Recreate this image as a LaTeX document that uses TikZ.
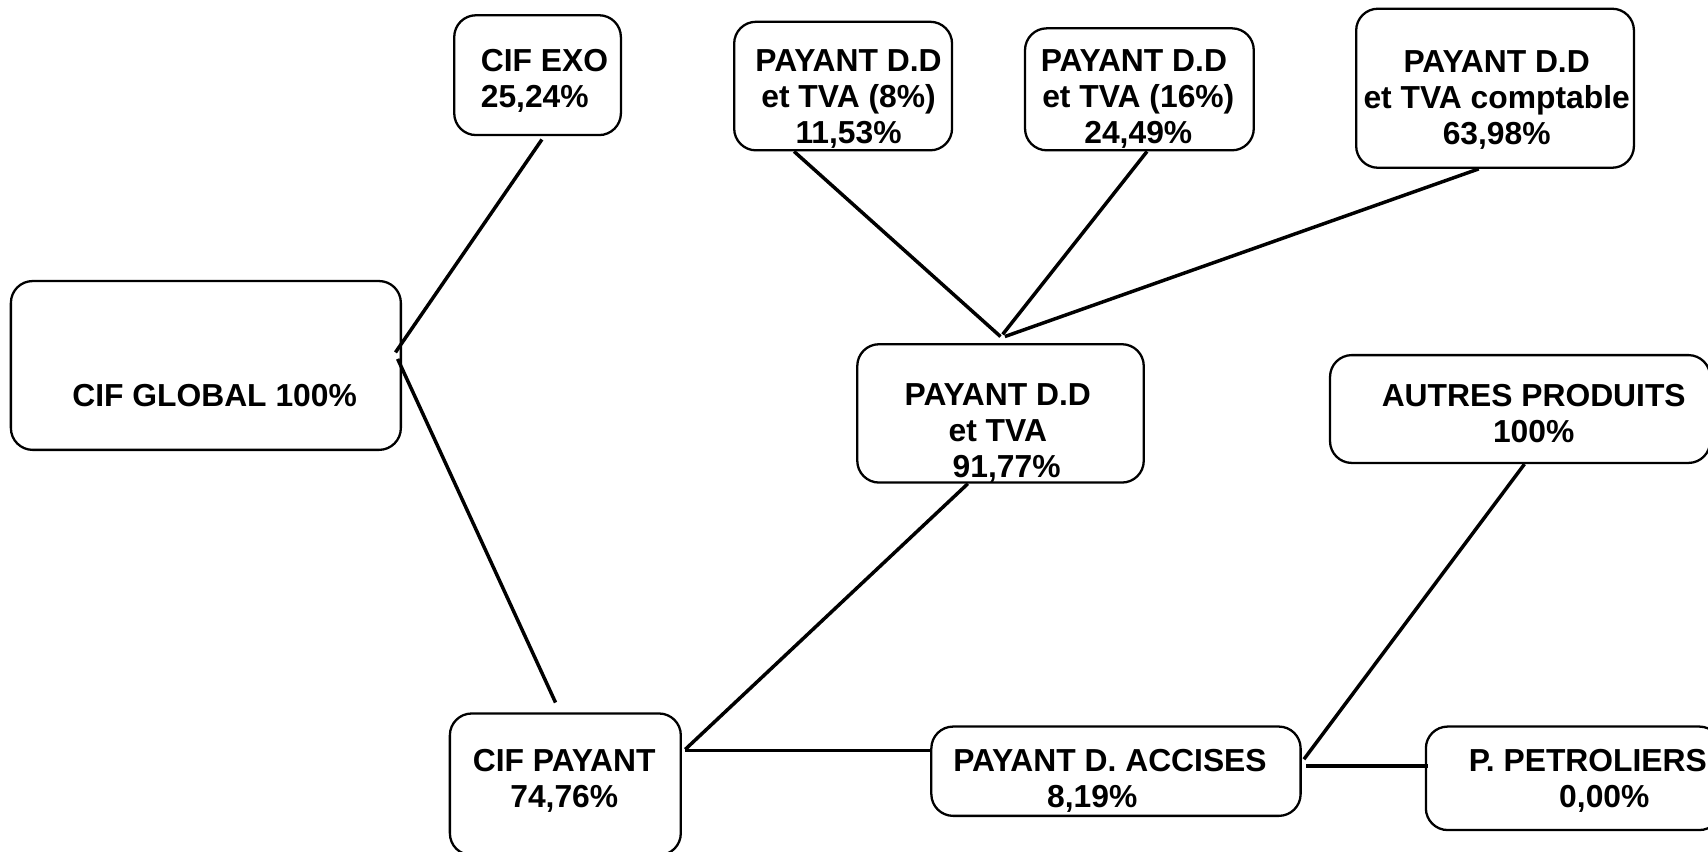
\documentclass[tikz,border=0pt]{standalone}
\usepackage{fontspec}
\setmainfont{Liberation Sans}
\usetikzlibrary{calc}

\begin{document}
\begin{tikzpicture}[x=0.5pt,y=-0.5pt,
  box/.style={draw,line width=1.05pt,rounded corners=10pt,inner sep=0pt},
  txt/.style={inner sep=0pt,align=center,font=\fontsize{14.6pt}{16.5pt}\selectfont\bfseries},
  link/.style={line width=1.6pt}]

\useasboundingbox (0,0) rectangle (1568,782);

% boxes
\node[box,minimum width=179pt,minimum height=77.5pt] (global) at (189,335.5) {};
\node[box,minimum width=76.5pt,minimum height=55pt] (exo) at (493.5,69) {};
\node[box,minimum width=100pt,minimum height=59pt] (tva8) at (774,79) {};
\node[box,minimum width=105pt,minimum height=56pt] (tva16) at (1046,82) {};
\node[box,minimum width=127.5pt,minimum height=73pt] (tvac) at (1372.5,81) {};
\node[box,minimum width=131.5pt,minimum height=63.5pt] (tva) at (918.5,379.5) {};
\node[box,minimum width=174.5pt,minimum height=49.5pt] (autres) at (1395.5,375.5) {};
\node[box,minimum width=106pt,minimum height=65pt] (payant) at (519,720) {};
\node[box,minimum width=169.5pt,minimum height=41pt] (accises) at (1024.5,708) {};
\node[box,minimum width=135.5pt,minimum height=47.5pt] (petro) at (1444.5,714.5) {};

% texts
\node[txt] (global-t) at (197,363) {CIF GLOBAL 100\%};
\node[txt,align=left,anchor=west] (exo-t) at (441,74) {CIF EXO\\25,24\%};
\node[txt] (tva8-t) at (779,91) {PAYANT D.D\\et TVA (8\%)\\11,53\%};
\node[txt] (tva16-t) at (1045,91) {PAYANT D.D\hphantom{.}\\et TVA (16\%)\\24,49\%};
\node[txt] (tvac-t) at (1374,92) {PAYANT D.D\\et TVA comptable\\63,98\%};
\node[txt] (tva-t) at (916,397.5) {PAYANT D.D\\et TVA\\\hphantom{0}91,77\%};
\node[txt] (autres-t) at (1408,379.5) {AUTRES PRODUITS\\100\%};
\node[txt] (payant-t) at (518,716.5) {CIF PAYANT\\74,76\%};
\node[txt] (accises-t) at (1019,716.5) {PAYANT D. ACCISES\\8,19\%\hphantom{00}};
\node[txt,align=left,anchor=west] (petro-t) at (1348,716.5) {P. PETROLIERS\\\hspace*{41.5pt}0,00\%};

% links
\coordinate (gl-a) at ($(global.east)+(-6,-12)$);
\coordinate (gl-b) at ($(global.east)+(-4,-6)$);
\coordinate (hub) at ($(tva.north)+(0,-6)$);

\draw[link] (gl-a) -- ($(exo.south)+(4,3)$);
\draw[link] (gl-b) -- ($(payant.north)+(-9,-9)$);
\draw[link] ($(payant.east)+(3,-32)$) -- ($(tva.south)+(-30,0)$);
\draw[link] ($(payant.east)+(3,-31)$) -- ($(accises.west)+(0,-19)$);
\draw[link] (hub) -- ($(tva8.south)+(-45,0)$);
\draw[link] ($(hub)+(2,-2)$) -- ($(tva16.south)+(7,0)$);
\draw[link] ($(hub)+(4,0)$) -- ($(tvac.south)+(-15,0)$);
\draw[link] ($(accises.east)+(2,-11)$) -- ($(autres.south)+(4,0)$);
\draw[link] ($(accises.east)+(4,-5)$) -- ($(petro.west)+(3,-11.5)$);

\end{tikzpicture}
\end{document}
